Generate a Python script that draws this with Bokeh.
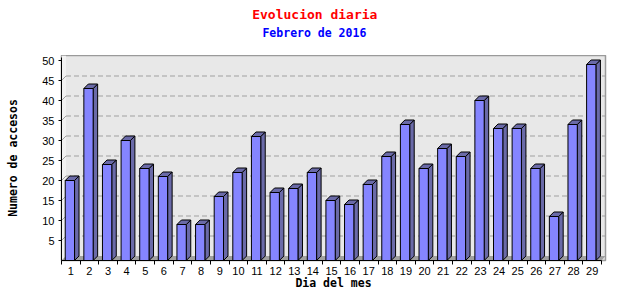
from bokeh.plotting import figure
from bokeh.models import Range1d, FixedTicker, Label
from bokeh.layouts import column
from bokeh.embed import file_html
from bokeh.resources import INLINE

# ---- data ----
days = list(range(1, 30))
visits = [20, 43, 24, 30, 23, 21, 9, 9, 16, 22, 31, 17, 18, 22, 15,
          14, 19, 26, 34, 23, 28, 26, 40, 33, 33, 23, 11, 34, 49]
y_ticks = [5, 10, 15, 20, 25, 30, 35, 40, 45, 50]
x_tick_labels = [str(d) for d in days]
title_text = "Evolucion diaria"
subtitle_text = "Febrero de 2016"
x_label = "Dia del mes"
y_label = "Numero de accesos"

# ---- title strip ----
head = figure(width=640, height=55, x_range=Range1d(0, 640), y_range=Range1d(0, 55),
              output_backend="svg", toolbar_location=None,
              x_axis_location=None, y_axis_location=None,
              min_border=0)
head.grid.visible = False
head.outline_line_color = None
head.background_fill_color = "white"
head.add_layout(Label(x=298, y=41, text=title_text,
                      text_align="center", text_baseline="middle",
                      text_color="#ff0000", text_font="DejaVu Sans Mono",
                      text_font_size="13px", text_font_style="bold"))
head.add_layout(Label(x=297.5, y=23, text=subtitle_text,
                      text_align="center", text_baseline="middle",
                      text_color="#0000ff", text_font="DejaVu Sans Mono",
                      text_font_size="11.5px", text_font_style="bold"))

# ---- geometry (in data units) ----
PX_PER_DAY = 540 / 29.0
PX_PER_UNIT = 4.0
DEPTH = 4.5
dx = DEPTH / PX_PER_DAY
dy = DEPTH / PX_PER_UNIT
x_start, x_stop = 0.5, 29.5
x_end = x_stop + 4 / PX_PER_DAY
y_end = 51.25

p = figure(width=640, height=245,
           x_range=Range1d(x_start, x_end), y_range=Range1d(0, y_end),
           output_backend="svg", toolbar_location=None,
           min_border_left=61, min_border_right=35,
           min_border_top=0, min_border_bottom=40)
p.grid.visible = False
p.background_fill_color = "#e8e8e8"
p.border_fill_color = "white"
p.outline_line_color = "#9a9a9a"
p.outline_line_width = 1.5

# left wall and floor
p.patch([x_start, x_start + dx, x_start + dx, x_start],
        [0, dy, y_end, y_end], fill_color="#f2f2f2", line_color=None)
p.patch([x_start, x_start + dx, x_end, x_stop],
        [0, dy, dy, 0], fill_color="#a0a0a0", line_color=None)

# grid lines on back wall + left wall
grid_vals = [t for t in y_ticks if t < 50]
p.segment(x0=[x_start + dx] * len(grid_vals), y0=[t + dy for t in grid_vals],
          x1=[x_end] * len(grid_vals), y1=[t + dy for t in grid_vals],
          line_color="#a0a0a0", line_dash="5 3", line_width=1)
p.segment(x0=[x_start] * len(grid_vals), y0=grid_vals,
          x1=[x_start + dx] * len(grid_vals), y1=[t + dy for t in grid_vals],
          line_color="#a0a0a0", line_width=1)

# 3D bars
lefts = [d - 0.30 for d in days]
rights = [d + 0.20 for d in days]
side_xs = [[r, r + dx, r + dx, r] for r in rights]
side_ys = [[0, dy, v + dy, v] for v in visits]
top_xs = [[l, l + dx, r + dx, r] for l, r in zip(lefts, rights)]
top_ys = [[v, v + dy, v + dy, v] for v in visits]
p.patches(side_xs, side_ys, fill_color="#6a6aa8", line_color="black", line_width=1)
p.patches(top_xs, top_ys, fill_color="#6a6aa8", line_color="black", line_width=1)
p.quad(left=lefts, right=rights, bottom=[0] * len(days), top=visits,
       fill_color="#8585ff", line_color="black", line_width=1)

# axes
xa = p.xaxis[0]
xa.ticker = FixedTicker(ticks=days, minor_ticks=[d + 0.5 for d in [0] + days])
xa.major_label_overrides = {d: s for d, s in zip(days, x_tick_labels)}
xa.major_tick_line_color = None
xa.minor_tick_line_color = "black"
xa.minor_tick_in = 0
xa.minor_tick_out = 4
xa.major_label_standoff = 0
xa.bounds = (x_start, x_stop)
xa.axis_line_color = "black"
xa.major_label_text_font = "Liberation Sans"
xa.major_label_text_font_size = "11px"
xa.major_label_text_color = "black"
xa.axis_label = x_label
xa.axis_label_text_font = "DejaVu Sans Mono"
xa.axis_label_text_font_size = "11.5px"
xa.axis_label_text_font_style = "bold"
xa.axis_label_text_color = "black"
xa.axis_label_standoff = -2

ya = p.yaxis[0]
ya.ticker = FixedTicker(ticks=y_ticks, minor_ticks=[])
ya.major_tick_in = 0
ya.major_tick_out = 3
ya.minor_tick_line_color = None
ya.major_label_standoff = 4
ya.bounds = (0, 50.75)
ya.axis_line_color = "black"
ya.major_label_text_font = "Liberation Sans"
ya.major_label_text_font_size = "11px"
ya.major_label_text_color = "black"
ya.axis_label = y_label
ya.axis_label_text_font = "DejaVu Sans Mono"
ya.axis_label_text_font_size = "11.5px"
ya.axis_label_text_font_style = "bold"
ya.axis_label_text_color = "black"
ya.axis_label_standoff = 19

layout = column(head, p, spacing=0)
open("out.html", "w").write(file_html(layout, INLINE))
